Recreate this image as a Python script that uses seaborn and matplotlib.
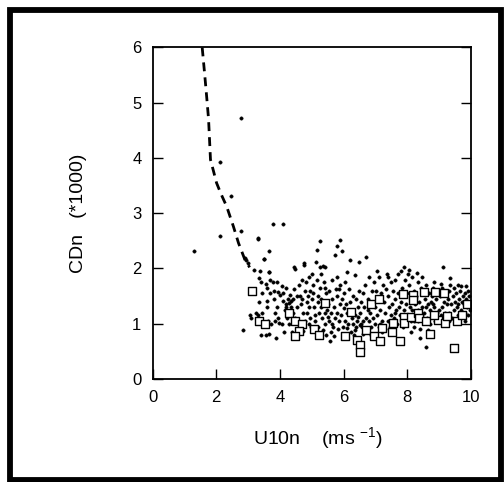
import numpy as np
import pandas as pd
import matplotlib
matplotlib.use("Agg")
import matplotlib.pyplot as plt
import seaborn as sns
from matplotlib.patches import Rectangle

# dashed curve
curve_u = [1.56, 1.64, 1.70, 1.76, 1.82, 1.92, 2.01, 2.15, 2.33, 2.54, 2.70, 2.90, 3.05]
curve_cd = [6.00, 5.50, 5.11, 4.70, 3.97, 3.75, 3.55, 3.35, 3.12, 2.76, 2.46, 2.16, 2.02]

# open squares
sq_u = [3.11, 3.35, 3.53, 4.27, 4.47, 4.68, 4.61, 4.47, 5.07, 5.24, 5.41, 6.04, 6.22,
        6.42, 6.51, 6.51, 6.69, 6.86, 7.10, 6.95, 7.13, 7.21, 7.52, 7.55, 7.76, 7.87,
        8.17, 7.88, 7.89, 8.12, 8.33, 8.37, 8.59, 8.52, 8.71, 8.87, 8.96, 9.18, 9.15,
        9.26, 9.45, 9.56, 9.72, 9.87, 8.83, 8.18]
sq_cd = [1.60, 1.05, 0.99, 1.19, 1.05, 1.00, 0.87, 0.78, 0.90, 0.80, 1.37, 0.78, 1.22,
         0.71, 0.62, 0.49, 0.88, 1.36, 1.45, 0.77, 0.68, 0.92, 0.85, 1.01, 0.68, 1.54,
         1.52, 1.13, 1.01, 1.13, 1.20, 1.10, 1.05, 1.58, 0.82, 1.57, 1.07, 1.01, 1.55,
         1.14, 0.57, 1.05, 1.15, 1.36, 1.16, 1.43]

# small dots
dot_u = [2.78, 2.12, 2.46, 1.30, 2.12, 2.78, 3.78, 4.09, 3.30, 3.67, 3.49, 2.90, 2.83,
         3.67, 4.47, 4.76, 5.25, 5.17, 5.26, 5.42, 5.73, 5.89, 5.95, 5.80, 6.48, 6.69, 6.35,
         3.00, 3.05, 3.10, 3.20, 3.25, 2.95,
         3.30, 3.35, 3.40, 3.45, 3.35, 3.30, 3.40, 3.50, 3.45, 3.50, 3.38,
         3.55, 3.60, 3.60, 3.62, 3.65, 3.70, 3.70, 3.72, 3.67, 3.60, 3.55,
         3.78, 3.80, 3.82, 3.85, 3.88, 3.90, 3.92, 3.95, 3.98, 3.85, 4.00, 3.95,
         4.05, 4.10, 4.12, 4.15, 4.18, 4.20, 4.22, 4.08, 4.25, 4.10, 4.20,
         4.30, 4.32, 4.35, 4.40, 4.42, 4.45, 4.48, 4.38, 4.30, 4.45, 4.35,
         4.55, 4.60, 4.62, 4.65, 4.70, 4.72, 4.68, 4.55, 4.75, 4.60, 4.70, 4.74,
         4.80, 4.82, 4.85, 4.88, 4.90, 4.92, 4.95, 4.98, 4.85, 4.90, 4.95, 5.00, 4.80,
         5.02, 5.05, 5.08, 5.10, 5.12, 5.15, 5.18, 5.20, 5.22, 5.05, 5.10, 5.15, 5.25, 5.20, 5.08,
         5.30, 5.32, 5.35, 5.38, 5.40, 5.42, 5.45, 5.48, 5.30, 5.35, 5.28, 5.44, 5.50, 5.40,
         5.52, 5.55, 5.58, 5.60, 5.62, 5.65, 5.68, 5.70, 5.72, 5.55, 5.60, 5.75, 5.65, 5.70,
         5.78, 5.80, 5.82, 5.85, 5.88, 5.90, 5.92, 5.95, 5.98, 5.80, 6.00, 5.85,
         6.02, 6.05, 6.08, 6.10, 6.12, 6.15, 6.18, 6.20, 6.22, 6.05, 6.25, 6.10, 6.20,
         6.28, 6.30, 6.32, 6.35, 6.38, 6.40, 6.42, 6.45, 6.48, 6.30, 6.35, 6.45, 6.50,
         6.52, 6.55, 6.58, 6.60, 6.62, 6.65, 6.70, 6.72, 6.55, 6.68, 6.75, 6.60,
         6.78, 6.80, 6.82, 6.85, 6.88, 6.90, 6.92, 6.95, 6.98, 6.80, 7.00, 6.85,
         7.02, 7.05, 7.08, 7.10, 7.12, 7.15, 7.18, 7.20, 7.22, 7.25, 7.05, 7.15,
         7.28, 7.30, 7.32, 7.35, 7.38, 7.40, 7.42, 7.45, 7.48, 7.30, 7.50, 7.40,
         7.52, 7.55, 7.58, 7.60, 7.62, 7.65, 7.68, 7.70, 7.72, 7.55, 7.75, 7.60,
         7.78, 7.80, 7.82, 7.85, 7.88, 7.90, 7.92, 7.95, 7.98, 7.85, 8.00, 7.80, 7.95,
         8.02, 8.05, 8.08, 8.10, 8.12, 8.15, 8.18, 8.20, 8.22, 8.05, 8.25, 8.10, 8.15, 8.22,
         8.28, 8.30, 8.32, 8.35, 8.38, 8.40, 8.42, 8.45, 8.48, 8.30, 8.50, 8.40, 8.45, 8.35,
         8.52, 8.55, 8.58, 8.60, 8.62, 8.65, 8.68, 8.70, 8.72, 8.55, 8.75, 8.60, 8.65,
         8.78, 8.80, 8.82, 8.85, 8.88, 8.90, 8.92, 8.95, 8.98, 8.80, 9.00, 8.85,
         9.02, 9.05, 9.08, 9.10, 9.12, 9.15, 9.18, 9.20, 9.22, 9.05, 9.25, 9.10,
         9.28, 9.30, 9.32, 9.35, 9.38, 9.40, 9.42, 9.45, 9.48, 9.30, 9.50, 9.35,
         9.52, 9.55, 9.58, 9.60, 9.62, 9.65, 9.68, 9.70, 9.72, 9.55, 9.75, 9.60,
         9.78, 9.80, 9.82, 9.85, 9.88, 9.90, 9.92, 9.95, 9.98, 9.80, 9.95, 9.85]
dot_cd = [4.72, 3.93, 3.32, 2.31, 2.58, 2.67, 2.80, 2.80, 2.54, 2.31, 2.17, 2.19, 0.89,
          1.93, 1.99, 2.07, 2.49, 2.34, 2.03, 2.03, 2.25, 2.52, 2.32, 2.40, 2.11, 2.20, 1.88,
          2.10, 1.15, 1.10, 1.97, 1.20, 2.15,
          2.55, 1.82, 1.75, 1.55, 1.40, 1.15, 0.80, 1.02, 1.20, 2.17, 1.95,
          1.72, 1.65, 1.30, 1.05, 0.82, 1.55, 1.80, 1.00, 1.93, 1.42, 0.80,
          1.75, 1.45, 1.60, 1.05, 0.75, 1.30, 1.75, 1.58, 1.02, 1.20, 1.52, 1.10,
          1.68, 1.42, 0.85, 1.25, 1.35, 1.65, 1.10, 1.00, 1.45, 1.55, 1.30,
          1.38, 1.52, 1.30, 1.20, 1.45, 2.02, 1.10, 0.85, 1.00, 1.62, 1.42,
          1.30, 1.70, 1.50, 1.35, 1.80, 1.20, 1.00, 1.50, 2.10, 0.95, 1.45, 0.86,
          1.60, 1.75, 1.40, 1.50, 1.85, 1.30, 1.10, 0.95, 1.20, 1.00, 1.60, 1.45, 1.05,
          1.90, 1.55, 1.30, 1.05, 2.12, 1.80, 1.40, 0.95, 1.20, 1.70, 1.15, 0.85, 1.65, 1.50, 0.90,
          1.30, 1.10, 0.88, 1.75, 1.20, 1.00, 1.55, 1.25, 1.90, 2.05, 1.45, 0.80, 1.12, 1.65,
          1.35, 1.05, 0.68, 1.20, 1.80, 1.45, 0.95, 1.30, 1.10, 1.60, 0.85, 1.62, 1.00, 0.78,
          1.20, 1.50, 0.90, 1.05, 1.35, 1.70, 1.15, 1.45, 0.95, 1.85, 1.28, 1.62,
          1.55, 1.05, 1.35, 0.92, 1.20, 1.00, 1.62, 1.40, 0.85, 1.75, 1.10, 1.93, 2.15,
          1.00, 1.25, 0.80, 1.15, 1.45, 0.95, 1.05, 1.30, 1.60, 1.50, 0.88, 1.12, 0.98,
          1.20, 1.40, 0.95, 1.55, 1.05, 1.30, 1.10, 0.90, 1.00, 1.70, 1.25, 0.82,
          1.45, 1.05, 1.20, 0.95, 1.60, 1.35, 1.10, 1.75, 1.00, 1.85, 1.30, 0.80,
          1.60, 1.15, 1.42, 0.95, 1.85, 1.25, 1.55, 1.05, 0.85, 1.70, 1.95, 1.00,
          1.40, 1.20, 1.62, 1.90, 1.05, 1.50, 1.30, 0.95, 1.75, 0.90, 1.15, 1.85,
          1.35, 1.60, 1.10, 1.45, 1.80, 1.25, 1.00, 1.55, 1.90, 0.90, 1.30, 1.20,
          1.15, 1.40, 1.65, 1.05, 1.25, 2.02, 1.80, 1.35, 1.55, 0.95, 1.10, 1.95, 1.00,
          1.90, 1.70, 1.30, 1.05, 1.45, 1.85, 1.15, 0.95, 1.60, 1.98, 1.35, 0.85, 1.25, 1.05,
          1.50, 1.20, 1.75, 1.05, 1.40, 0.90, 1.65, 1.30, 1.10, 1.92, 1.55, 0.75, 1.85, 1.25,
          1.20, 1.45, 0.58, 1.70, 1.10, 1.35, 1.55, 1.00, 1.25, 1.05, 1.40, 1.30, 0.88,
          1.50, 1.15, 1.65, 1.30, 1.05, 1.45, 1.20, 1.60, 1.10, 1.35, 1.25, 1.75,
          1.50, 1.15, 1.65, 1.30, 2.02, 1.40, 1.20, 1.55, 1.05, 1.72, 1.35, 1.10,
          1.45, 1.60, 1.20, 1.70, 1.35, 1.10, 1.50, 1.25, 1.65, 1.05, 1.40, 1.82,
          1.55, 1.30, 1.70, 1.15, 1.45, 1.60, 1.25, 1.68, 1.40, 1.05, 1.50, 1.35,
          1.35, 1.55, 1.20, 1.45, 1.30, 1.60, 1.15, 1.40, 1.25, 1.05, 1.50, 1.68]

x_ticks = [0, 2, 4, 6, 8, 10]
y_ticks = [0, 1, 2, 3, 4, 5, 6]

dots = pd.DataFrame({"U10n": dot_u, "CDn": dot_cd})
squares = pd.DataFrame({"U10n": sq_u, "CDn": sq_cd})
curve = pd.DataFrame({"U10n": curve_u, "CDn": curve_cd})

sns.set_style("ticks")
plt.rcParams["font.family"] = ["Liberation Sans", "DejaVu Sans"]
plt.rcParams["mathtext.fontset"] = "custom"
plt.rcParams["mathtext.rm"] = "Liberation Sans"
plt.rcParams["text.color"] = "black"
plt.rcParams["axes.labelcolor"] = "black"

fig = plt.figure(figsize=(5.04, 4.82), dpi=100)
ax = fig.add_axes([0.3026, 0.2137, 0.632, 0.6878])

sns.lineplot(data=curve, x="U10n", y="CDn", sort=False, color="black",
             linewidth=2.0, dashes=False, ax=ax)
ax.lines[0].set_dashes([3.2, 2.2])
sns.scatterplot(data=dots, x="U10n", y="CDn", marker="o", s=6, color="black",
                edgecolor="black", linewidth=0.3, ax=ax)
sns.scatterplot(data=squares, x="U10n", y="CDn", marker="s", s=28,
                facecolor="white", edgecolor="black", linewidth=1.0, ax=ax)

ax.set_xlim(0, 10)
ax.set_ylim(0, 6)
ax.set_xticks(x_ticks)
ax.set_yticks(y_ticks)
ax.tick_params(direction="in", length=7, width=1.0, labelsize=12,
               colors="black", labelcolor="black")
ax.tick_params(axis="x", pad=8)
ax.tick_params(axis="y", pad=8, right=True)
for sp in ax.spines.values():
    sp.set_visible(True)
    sp.set_linewidth(1.3)
    sp.set_color("black")

ax.set_xlabel(r"U10n    (ms $^{\mathrm{-1}}$)", fontsize=14)
ax.set_ylabel("CDn   (*1000)", fontsize=14)
ax.xaxis.set_label_coords(0.52, -0.14)
ax.yaxis.set_label_coords(-0.205, 0.5)

fig.patches.append(Rectangle((0.0198, 0.0042), 0.975, 0.975, transform=fig.transFigure,
                             fill=False, edgecolor="black", linewidth=4.2))

fig.savefig("out.png", dpi=100)
